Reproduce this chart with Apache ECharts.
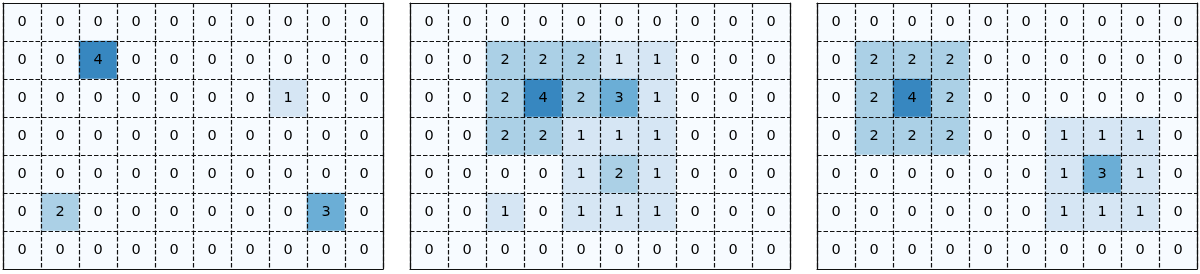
<!DOCTYPE html>
<html><head><meta charset="utf-8">
<script src="https://cdn.jsdelivr.net/npm/echarts@6/dist/echarts.min.js"></script>
<style>html,body{margin:0;padding:0;background:#fff}#c{width:1200px;height:274px}</style>
</head><body><div id="c"></div>
<script>
const cols = ['0','1','2','3','4','5','6','7','8','9'];
const rows = ['0','1','2','3','4','5','6'];
const panel1 = [
  [0,0,0,0,0,0,0,0,0,0],
  [0,0,4,0,0,0,0,0,0,0],
  [0,0,0,0,0,0,0,1,0,0],
  [0,0,0,0,0,0,0,0,0,0],
  [0,0,0,0,0,0,0,0,0,0],
  [0,2,0,0,0,0,0,0,3,0],
  [0,0,0,0,0,0,0,0,0,0]
];
const panel2 = [
  [0,0,0,0,0,0,0,0,0,0],
  [0,0,2,2,2,1,1,0,0,0],
  [0,0,2,4,2,3,1,0,0,0],
  [0,0,2,2,1,1,1,0,0,0],
  [0,0,0,0,1,2,1,0,0,0],
  [0,0,1,0,1,1,1,0,0,0],
  [0,0,0,0,0,0,0,0,0,0]
];
const panel3 = [
  [0,0,0,0,0,0,0,0,0,0],
  [0,2,2,2,0,0,0,0,0,0],
  [0,2,4,2,0,0,0,0,0,0],
  [0,2,2,2,0,0,1,1,1,0],
  [0,0,0,0,0,0,1,3,1,0],
  [0,0,0,0,0,0,1,1,1,0],
  [0,0,0,0,0,0,0,0,0,0]
];
const blues = ['#f7fbff','#deebf7','#c6dbef','#9ecae1','#6baed6','#4292c6','#2171b5','#08519c','#08306b'];
const panels = [panel1, panel2, panel3];
const lefts = [3, 410, 817];

function toData(m){const d=[];m.forEach((r,y)=>r.forEach((v,x)=>d.push([x,y,v])));return d;}

const grid=[],xAxis=[],yAxis=[],series=[],visualMap=[];
panels.forEach((p,i)=>{
  grid.push({left:lefts[i],top:3,width:380,height:266});
  const lineStyle={color:'#111',width:1.2};
  const dash={color:'#111',width:1.2,type:[4.5,2]};
  xAxis.push({type:'category',data:cols,gridIndex:i,position:'bottom',z:10,
    axisLine:{show:true,lineStyle},axisTick:{show:false},axisLabel:{show:false},
    splitLine:{show:true,interval:0,lineStyle:dash}});
  xAxis.push({type:'category',data:cols,gridIndex:i,position:'top',z:10,
    axisLine:{show:true,lineStyle},axisTick:{show:false},axisLabel:{show:false},splitLine:{show:false}});
  yAxis.push({type:'category',data:rows,gridIndex:i,inverse:true,position:'left',z:10,
    axisLine:{show:true,lineStyle},axisTick:{show:false},axisLabel:{show:false},
    splitLine:{show:true,interval:0,lineStyle:dash}});
  yAxis.push({type:'category',data:rows,gridIndex:i,inverse:true,position:'right',z:10,
    axisLine:{show:true,lineStyle},axisTick:{show:false},axisLabel:{show:false},splitLine:{show:false}});
  series.push({type:'heatmap',xAxisIndex:2*i,yAxisIndex:2*i,data:toData(p),
    label:{show:true,color:'#000',fontFamily:'DejaVu Sans',fontSize:14.5},
    itemStyle:{borderWidth:0},emphasis:{disabled:true}});
  visualMap.push({type:'continuous',show:false,seriesIndex:i,min:0,max:6,inRange:{color:blues}});
});

const chart=echarts.init(document.getElementById('c'),null,{renderer:'canvas'});
chart.setOption({animation:false,backgroundColor:'#fff',grid,xAxis,yAxis,series,visualMap});
</script></body></html>
